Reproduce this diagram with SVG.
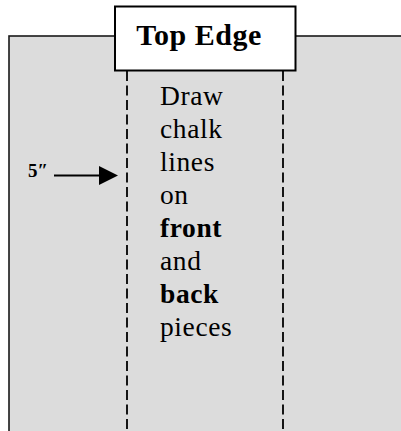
<svg xmlns="http://www.w3.org/2000/svg" width="401" height="431" viewBox="0 0 401 431">
<defs>
<style>
.body{font-family:"Liberation Serif","Times New Roman",serif;font-size:27.5px;letter-spacing:0.6px;fill:#000}
.b{font-weight:bold}
.dash{stroke:#000;stroke-width:1.8;stroke-dasharray:10 4.5;fill:none}
</style>
</defs>
<rect width="401" height="431" fill="#fff"/>
<g id="fabric">
<rect x="9" y="36" width="420" height="420" fill="#dcdcdc" stroke="#1a1a1a" stroke-width="1.6"/>
</g>
<g id="connectors">
<line class="dash" x1="127" y1="71" x2="127" y2="431"/>
<line class="dash" x1="283" y1="71" x2="283" y2="431"/>
<line x1="54" y1="175.5" x2="101" y2="175.5" stroke="#000" stroke-width="2"/>
<polygon points="99,166 118,175.5 99,185" fill="#000"/>
</g>
<g id="top-edge">
<rect x="115" y="6.5" width="180.5" height="64" fill="#fff" stroke="#000" stroke-width="2"/>
<text x="199" y="45" text-anchor="middle" font-family="'Liberation Serif','Times New Roman',serif" font-size="30" font-weight="bold" letter-spacing="0.5">Top Edge</text>
</g>
<g id="label-5">
<text x="28" y="177" font-family="'Liberation Serif','Times New Roman',serif" font-size="19" font-weight="bold">5″</text>
</g>
<g id="instructions">
<text class="body" x="160" y="105">Draw</text>
<text class="body" x="160" y="138">chalk</text>
<text class="body" x="160" y="171">lines</text>
<text class="body" x="160" y="204">on</text>
<text class="body b" x="160" y="237">front</text>
<text class="body" x="160" y="270">and</text>
<text class="body b" x="160" y="303">back</text>
<text class="body" x="160" y="336">pieces</text>
</g>
</svg>
